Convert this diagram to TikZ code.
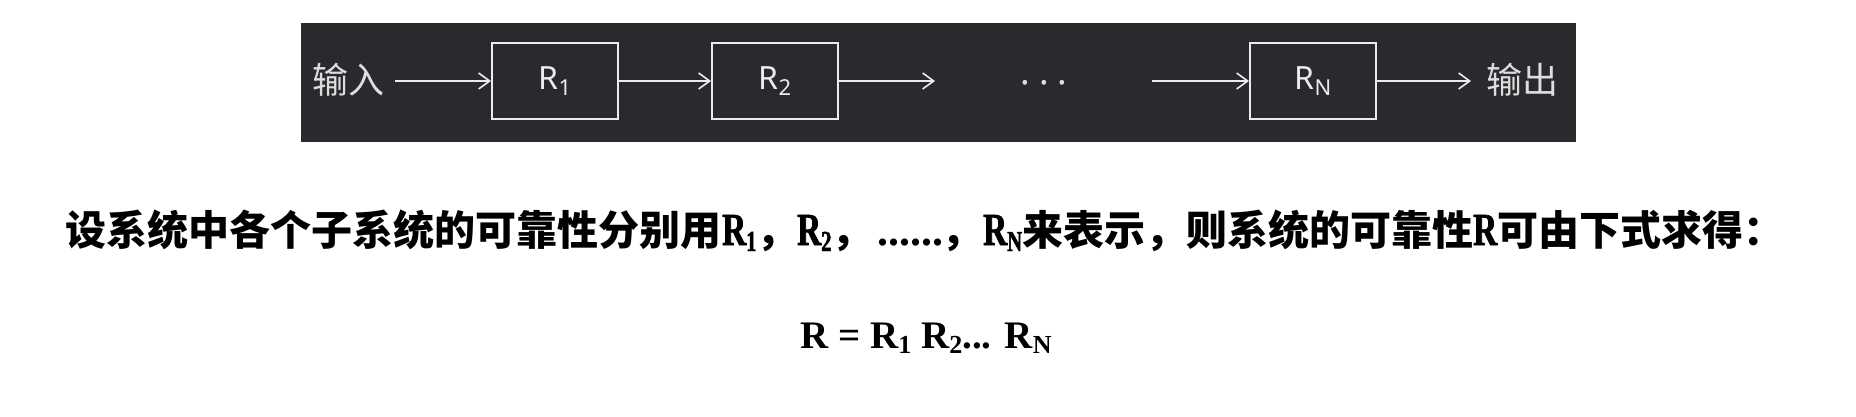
\documentclass[tikz,border=0pt]{standalone}
\usepackage{fontspec}
\usetikzlibrary{arrows.meta}
\newfontfamily\cjk{Noto Sans CJK SC}
\newfontfamily\tnrc{Liberation Serif Bold}[FakeStretch=0.72, FakeBold=1.6]
\newfontfamily\tnr{Liberation Serif}
\newfontfamily\labfont{Noto Sans}
\definecolor{bandbg}{RGB}{40,42,46}
\definecolor{bandfg}{RGB}{236,236,236}
\definecolor{bandtxt}{RGB}{222,222,222}
\newcommand{\cjkline}{\cjk\bfseries\fontsize{41}{41}\selectfont}
\newcommand{\rline}{\tnrc\fontsize{46}{46}\selectfont}
\newcommand{\rsub}[1]{\raisebox{-6pt}{\fontsize{29}{29}\selectfont #1}}
\begin{document}
\begin{tikzpicture}[x=1pt,y=-1pt,
  box/.style={draw=bandfg, line width=2pt, minimum width=126pt, minimum height=76pt, inner sep=0pt,
    text=bandfg, font=\labfont\fontsize{32}{32}\selectfont},
  arr/.style={draw=bandfg, line width=1.8pt, -{Straight Barb[length=11pt,width=16pt,line width=1.6pt]}},
  bandlabel/.style={text=bandtxt, inner sep=0pt, font=\cjk\fontsize{36}{36}\selectfont},
  linetext/.style={inner sep=0pt, anchor=base west, text=black},
]
\useasboundingbox (0,0) rectangle (1856,416);
\fill[white] (0,0) rectangle (1856,416);
% dark band
\fill[bandbg] (301,23) rectangle (1576,142);
% boxes
\node[box] (r1) at (555,81) {R\raisebox{-6pt}{\fontsize{22}{22}\selectfont 1}};
\node[box] (r2) at (775,81) {R\raisebox{-6pt}{\fontsize{22}{22}\selectfont 2}};
\node[box] (rn) at (1313,81) {R\raisebox{-6pt}{\fontsize{22}{22}\selectfont N}};
% labels
\node[bandlabel] (inp) at (348,80) {输入};
\node[bandlabel] (outp) at (1522,80) {输出};
\node[text=bandtxt, inner sep=0pt, anchor=base, font=\labfont\bfseries\fontsize{36}{36}\selectfont] (dots) at (1044,95) {·\hspace{9pt}·\hspace{9pt}·};
% connectors
\coordinate (a0) at (395,81);
\coordinate (a3) at (935,81);
\coordinate (a4) at (1152,81);
\coordinate (a5) at (1471,81);
\draw[arr] (a0) -- (r1.west);
\draw[arr] (r1.east) -- (r2.west);
\draw[arr] (r2.east) -- (a3);
\draw[arr] (a4) -- (rn.west);
\draw[arr] (rn.east) -- (a5);
% description line
\node[linetext, font=\cjkline] (t1) at (65,245) {设系统中各个子系统的可靠性分别用};
\node[linetext] (t2) at (722,245) {{\rline R\rsub{1}}{\cjkline ，}};
\node[linetext] (t3) at (797,245) {{\rline R\rsub{2}}{\cjkline ，}};
\node[linetext, font=\tnr\bfseries\fontsize{44}{44}\selectfont] (t4) at (877,245) {......};
\node[linetext, font=\cjkline] (t4c) at (941,245) {，};
\node[linetext] (t5) at (983,245) {{\rline R\rsub{N}}{\cjkline 来表示，则系统的可靠性}{\rline R}{\cjkline 可由下式求得：}};
% formula
\node[inner sep=0pt, anchor=base, font=\tnr\bfseries\fontsize{39}{39}\selectfont] (eq) at (926,348)
  {R = R\raisebox{-5pt}{\fontsize{26}{26}\selectfont 1} R\raisebox{-5pt}{\fontsize{26}{26}\selectfont 2}... R\raisebox{-5pt}{\fontsize{26}{26}\selectfont N}};
\end{tikzpicture}
\end{document}
